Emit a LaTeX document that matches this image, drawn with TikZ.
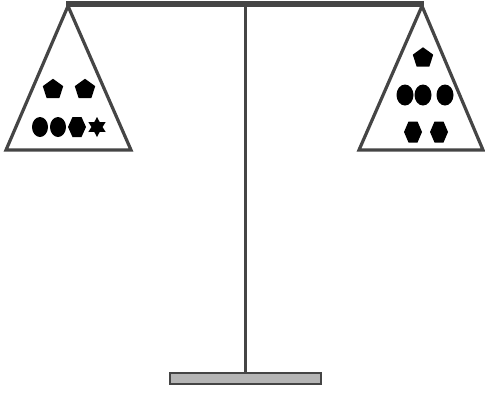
\documentclass[tikz,border=0pt]{standalone}
\usetikzlibrary{shapes.geometric}
\definecolor{frame}{HTML}{454545}
\definecolor{basefill}{HTML}{B5B5B5}
\tikzset{
  pan/.style={draw=frame, line width=3.2pt, fill=white, line join=miter},
  ell/.style={ellipse, fill=black, inner sep=0pt, minimum width=16pt, minimum height=20pt},
  penta/.style={regular polygon, regular polygon sides=5, fill=black, inner sep=0pt, minimum size=21.5pt},
  hexa/.style={fill=black},
  sixstar/.style={star, star points=6, star point ratio=1.8, fill=black, inner sep=0pt, minimum size=20pt},
}
\begin{document}
\begin{tikzpicture}[x=1pt,y=-1pt]
\useasboundingbox (0,0) rectangle (485,392);
% post and base
\coordinate (top) at (245.5,4);
\node[draw=frame, line width=1.6pt, fill=basefill, minimum width=151pt, minimum height=11pt, inner sep=0pt, anchor=north] (base) at (245.5,372) {};
\draw[frame, line width=3.8pt] (top) -- (base.north);
% beam
\coordinate (la) at (68,6);
\coordinate (ra) at (422,6);
\draw[frame, line width=6.5pt] (66,4) -- (424,4);
% pans
\coordinate (lbl) at (6,150);
\coordinate (lbr) at (131,150);
\coordinate (rbl) at (359,150);
\coordinate (rbr) at (483,150);
\draw[pan] (la) -- (lbr) -- (lbl) -- cycle;
\draw[pan] (ra) -- (rbr) -- (rbl) -- cycle;
% left weights
\node[penta] (lp1) at (53,89.5) {};
\node[penta] (lp2) at (85,89.5) {};
\node[ell] (le1) at (40,127) {};
\node[ell] (le2) at (58,127) {};
\fill[hexa] (68,127) -- (72.5,117) -- (81.5,117) -- (86,127) -- (81.5,137) -- (72.5,137) -- cycle;
\node[sixstar] (ls) at (97,127) {};
% right weights
\node[penta] (rp) at (423,58) {};
\node[ell, minimum width=17pt, minimum height=21pt] (re1) at (405,95) {};
\node[ell, minimum width=17pt, minimum height=21pt] (re2) at (423,95) {};
\node[ell, minimum width=17pt, minimum height=21pt] (re3) at (445,95) {};
\fill[hexa] (404,132) -- (408.5,121.5) -- (417.5,121.5) -- (422,132) -- (417.5,142.5) -- (408.5,142.5) -- cycle;
\fill[hexa] (430,132) -- (434.5,121.5) -- (443.5,121.5) -- (448,132) -- (443.5,142.5) -- (434.5,142.5) -- cycle;
\end{tikzpicture}
\end{document}
